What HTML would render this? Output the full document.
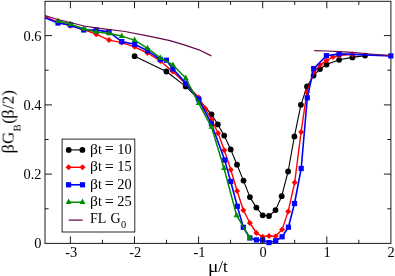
<!DOCTYPE html>
<html><head><meta charset="utf-8"><title>chart</title>
<style>html,body{margin:0;padding:0;background:#fff;width:395px;height:276px;overflow:hidden;font-family:"Liberation Serif",serif}</style></head>
<body>
<svg width="395" height="276" viewBox="0 0 395 276" style="position:absolute;left:0;top:0">
<rect width="395" height="276" fill="#fff"/>
<rect x="45.0" y="1.3" width="345.9" height="242.1" fill="none" stroke="#1a1a1a" stroke-width="1"/>
<polyline fill="none" stroke="#000" stroke-width="1.1" stroke-linejoin="round" points="134.6,56.2 166.4,71.5 185.7,86.4 198.6,99.2 211.5,114.3 217.8,124.4 224.2,135.6 230.7,149.4 237.0,164.7 243.5,180.6 249.9,197.1 256.4,207.6 262.7,215.3 269.0,216.0 275.5,210.1 281.7,196.2 288.1,171.5 294.4,136.4 300.9,104.8 307.0,86.5 313.6,75.6 320.0,69.1 326.5,64.5 339.1,59.8 352.4,57.4 365.1,55.6"/>
<circle cx="134.6" cy="56.2" r="2.9" fill="#000"/>
<circle cx="166.4" cy="71.5" r="2.9" fill="#000"/>
<circle cx="185.7" cy="86.4" r="2.9" fill="#000"/>
<circle cx="198.6" cy="99.2" r="2.9" fill="#000"/>
<circle cx="211.5" cy="114.3" r="2.9" fill="#000"/>
<circle cx="217.8" cy="124.4" r="2.9" fill="#000"/>
<circle cx="224.2" cy="135.6" r="2.9" fill="#000"/>
<circle cx="230.7" cy="149.4" r="2.9" fill="#000"/>
<circle cx="237.0" cy="164.7" r="2.9" fill="#000"/>
<circle cx="243.5" cy="180.6" r="2.9" fill="#000"/>
<circle cx="249.9" cy="197.1" r="2.9" fill="#000"/>
<circle cx="256.4" cy="207.6" r="2.9" fill="#000"/>
<circle cx="262.7" cy="215.3" r="2.9" fill="#000"/>
<circle cx="269.0" cy="216.0" r="2.9" fill="#000"/>
<circle cx="275.5" cy="210.1" r="2.9" fill="#000"/>
<circle cx="281.7" cy="196.2" r="2.9" fill="#000"/>
<circle cx="288.1" cy="171.5" r="2.9" fill="#000"/>
<circle cx="294.4" cy="136.4" r="2.9" fill="#000"/>
<circle cx="300.9" cy="104.8" r="2.9" fill="#000"/>
<circle cx="307.0" cy="86.5" r="2.9" fill="#000"/>
<circle cx="313.6" cy="75.6" r="2.9" fill="#000"/>
<circle cx="320.0" cy="69.1" r="2.9" fill="#000"/>
<circle cx="326.5" cy="64.5" r="2.9" fill="#000"/>
<circle cx="339.1" cy="59.8" r="2.9" fill="#000"/>
<circle cx="352.4" cy="57.4" r="2.9" fill="#000"/>
<circle cx="365.1" cy="55.6" r="2.9" fill="#000"/>
<polyline fill="none" stroke="#f00" stroke-width="1.4" stroke-linejoin="round" points="45.0,16.7 58.0,22.3 70.4,25.7 83.7,29.5 96.2,34.2 109.0,40.1 121.7,42.6 134.6,46.8 147.5,53.0 160.3,61.0 172.8,71.6 185.7,83.8 198.6,97.6 205.0,108.2 211.7,119.8 218.1,133.3 224.3,150.2 230.8,169.8 237.1,191.0 243.4,210.2 249.9,223.0 256.4,232.9 262.7,236.8 269.0,235.9 275.6,236.3 282.1,229.6 288.2,211.4 294.7,182.5 301.1,132.0 306.9,92.3 313.8,72.0 320.0,65.1 326.4,60.6 332.9,57.0 339.2,55.5 352.4,54.2"/>
<path d="M55.0 22.3L58.0 19.3L61.0 22.3L58.0 25.3Z" fill="#f00"/>
<path d="M67.4 25.7L70.4 22.7L73.4 25.7L70.4 28.7Z" fill="#f00"/>
<path d="M80.7 29.5L83.7 26.5L86.7 29.5L83.7 32.5Z" fill="#f00"/>
<path d="M93.2 34.2L96.2 31.2L99.2 34.2L96.2 37.2Z" fill="#f00"/>
<path d="M106.0 40.1L109.0 37.1L112.0 40.1L109.0 43.1Z" fill="#f00"/>
<path d="M118.7 42.6L121.7 39.6L124.7 42.6L121.7 45.6Z" fill="#f00"/>
<path d="M131.6 46.8L134.6 43.8L137.6 46.8L134.6 49.8Z" fill="#f00"/>
<path d="M144.5 53.0L147.5 50.0L150.5 53.0L147.5 56.0Z" fill="#f00"/>
<path d="M157.3 61.0L160.3 58.0L163.3 61.0L160.3 64.0Z" fill="#f00"/>
<path d="M169.8 71.6L172.8 68.6L175.8 71.6L172.8 74.6Z" fill="#f00"/>
<path d="M182.7 83.8L185.7 80.8L188.7 83.8L185.7 86.8Z" fill="#f00"/>
<path d="M195.6 97.6L198.6 94.6L201.6 97.6L198.6 100.6Z" fill="#f00"/>
<path d="M202.0 108.2L205.0 105.2L208.0 108.2L205.0 111.2Z" fill="#f00"/>
<path d="M208.7 119.8L211.7 116.8L214.7 119.8L211.7 122.8Z" fill="#f00"/>
<path d="M215.1 133.3L218.1 130.3L221.1 133.3L218.1 136.3Z" fill="#f00"/>
<path d="M221.3 150.2L224.3 147.2L227.3 150.2L224.3 153.2Z" fill="#f00"/>
<path d="M227.8 169.8L230.8 166.8L233.8 169.8L230.8 172.8Z" fill="#f00"/>
<path d="M234.1 191.0L237.1 188.0L240.1 191.0L237.1 194.0Z" fill="#f00"/>
<path d="M240.4 210.2L243.4 207.2L246.4 210.2L243.4 213.2Z" fill="#f00"/>
<path d="M246.9 223.0L249.9 220.0L252.9 223.0L249.9 226.0Z" fill="#f00"/>
<path d="M253.4 232.9L256.4 229.9L259.4 232.9L256.4 235.9Z" fill="#f00"/>
<path d="M259.7 236.8L262.7 233.8L265.7 236.8L262.7 239.8Z" fill="#f00"/>
<path d="M266.0 235.9L269.0 232.9L272.0 235.9L269.0 238.9Z" fill="#f00"/>
<path d="M272.6 236.3L275.6 233.3L278.6 236.3L275.6 239.3Z" fill="#f00"/>
<path d="M279.1 229.6L282.1 226.6L285.1 229.6L282.1 232.6Z" fill="#f00"/>
<path d="M285.2 211.4L288.2 208.4L291.2 211.4L288.2 214.4Z" fill="#f00"/>
<path d="M291.7 182.5L294.7 179.5L297.7 182.5L294.7 185.5Z" fill="#f00"/>
<path d="M298.1 132.0L301.1 129.0L304.1 132.0L301.1 135.0Z" fill="#f00"/>
<path d="M303.9 92.3L306.9 89.3L309.9 92.3L306.9 95.3Z" fill="#f00"/>
<path d="M310.8 72.0L313.8 69.0L316.8 72.0L313.8 75.0Z" fill="#f00"/>
<path d="M317.0 65.1L320.0 62.1L323.0 65.1L320.0 68.1Z" fill="#f00"/>
<path d="M323.4 60.6L326.4 57.6L329.4 60.6L326.4 63.6Z" fill="#f00"/>
<path d="M329.9 57.0L332.9 54.0L335.9 57.0L332.9 60.0Z" fill="#f00"/>
<path d="M336.2 55.5L339.2 52.5L342.2 55.5L339.2 58.5Z" fill="#f00"/>
<path d="M349.4 54.2L352.4 51.2L355.4 54.2L352.4 57.2Z" fill="#f00"/>
<polyline fill="none" stroke="#00f" stroke-width="1.6" stroke-linejoin="round" points="45.0,17.8 58.0,23.0 70.4,25.0 83.7,30.0 96.2,30.1 109.0,31.9 121.7,41.6 134.6,44.2 147.5,50.8 160.3,59.5 166.4,60.2 172.9,68.9 185.7,83.1 198.6,99.2 211.4,123.7 224.7,160.1 230.7,181.5 237.3,206.3 243.3,227.3 249.9,238.0 256.4,239.9 262.6,240.2 269.0,242.6 275.7,240.8 282.1,236.8 288.4,227.2 294.5,203.5 301.2,168.5 307.3,97.8 313.7,68.6 326.4,55.7 339.1,53.9 390.8,55.9"/>
<rect x="55.4" y="20.4" width="5.2" height="5.2" fill="#00f"/>
<rect x="67.8" y="22.4" width="5.2" height="5.2" fill="#00f"/>
<rect x="81.1" y="27.4" width="5.2" height="5.2" fill="#00f"/>
<rect x="93.6" y="27.5" width="5.2" height="5.2" fill="#00f"/>
<rect x="106.4" y="29.3" width="5.2" height="5.2" fill="#00f"/>
<rect x="119.1" y="39.0" width="5.2" height="5.2" fill="#00f"/>
<rect x="132.0" y="41.6" width="5.2" height="5.2" fill="#00f"/>
<rect x="144.9" y="48.2" width="5.2" height="5.2" fill="#00f"/>
<rect x="157.7" y="56.9" width="5.2" height="5.2" fill="#00f"/>
<rect x="163.8" y="57.6" width="5.2" height="5.2" fill="#00f"/>
<rect x="170.3" y="66.3" width="5.2" height="5.2" fill="#00f"/>
<rect x="183.1" y="80.5" width="5.2" height="5.2" fill="#00f"/>
<rect x="196.0" y="96.6" width="5.2" height="5.2" fill="#00f"/>
<rect x="208.8" y="121.1" width="5.2" height="5.2" fill="#00f"/>
<rect x="222.1" y="157.5" width="5.2" height="5.2" fill="#00f"/>
<rect x="228.1" y="178.9" width="5.2" height="5.2" fill="#00f"/>
<rect x="234.7" y="203.7" width="5.2" height="5.2" fill="#00f"/>
<rect x="240.7" y="224.7" width="5.2" height="5.2" fill="#00f"/>
<rect x="247.3" y="235.4" width="5.2" height="5.2" fill="#00f"/>
<rect x="253.8" y="237.3" width="5.2" height="5.2" fill="#00f"/>
<rect x="260.0" y="237.6" width="5.2" height="5.2" fill="#00f"/>
<rect x="266.4" y="240.0" width="5.2" height="5.2" fill="#00f"/>
<rect x="273.1" y="238.2" width="5.2" height="5.2" fill="#00f"/>
<rect x="279.5" y="234.2" width="5.2" height="5.2" fill="#00f"/>
<rect x="285.8" y="224.6" width="5.2" height="5.2" fill="#00f"/>
<rect x="291.9" y="200.9" width="5.2" height="5.2" fill="#00f"/>
<rect x="298.6" y="165.9" width="5.2" height="5.2" fill="#00f"/>
<rect x="304.7" y="95.2" width="5.2" height="5.2" fill="#00f"/>
<rect x="311.1" y="66.0" width="5.2" height="5.2" fill="#00f"/>
<rect x="323.8" y="53.1" width="5.2" height="5.2" fill="#00f"/>
<rect x="336.5" y="51.3" width="5.2" height="5.2" fill="#00f"/>
<rect x="388.2" y="53.3" width="5.2" height="5.2" fill="#00f"/>
<polyline fill="none" stroke="#008b00" stroke-width="1.5" stroke-linejoin="round" points="58.0,21.1 70.4,24.1 83.7,28.8 96.2,31.9 109.0,33.5 121.7,36.1 134.6,40.1 147.5,48.3 160.3,57.8 172.9,65.0 185.7,78.1 198.6,103.2 211.4,126.9 224.0,168.2 236.6,215.4 249.9,238.0"/>
<path d="M55.10 22.95L60.90 22.95L58.00 17.50Z" fill="#008b00"/>
<path d="M67.50 25.95L73.30 25.95L70.40 20.50Z" fill="#008b00"/>
<path d="M80.80 30.65L86.60 30.65L83.70 25.20Z" fill="#008b00"/>
<path d="M93.30 33.75L99.10 33.75L96.20 28.30Z" fill="#008b00"/>
<path d="M106.10 35.35L111.90 35.35L109.00 29.90Z" fill="#008b00"/>
<path d="M118.80 37.95L124.60 37.95L121.70 32.50Z" fill="#008b00"/>
<path d="M131.70 41.95L137.50 41.95L134.60 36.50Z" fill="#008b00"/>
<path d="M144.60 50.15L150.40 50.15L147.50 44.70Z" fill="#008b00"/>
<path d="M157.40 59.65L163.20 59.65L160.30 54.20Z" fill="#008b00"/>
<path d="M170.00 66.85L175.80 66.85L172.90 61.40Z" fill="#008b00"/>
<path d="M182.80 79.95L188.60 79.95L185.70 74.50Z" fill="#008b00"/>
<path d="M195.70 105.05L201.50 105.05L198.60 99.60Z" fill="#008b00"/>
<path d="M208.50 128.75L214.30 128.75L211.40 123.30Z" fill="#008b00"/>
<path d="M221.10 170.05L226.90 170.05L224.00 164.60Z" fill="#008b00"/>
<path d="M233.70 217.25L239.50 217.25L236.60 211.80Z" fill="#008b00"/>
<path d="M247.00 239.85L252.80 239.85L249.90 234.40Z" fill="#008b00"/>
<polyline fill="none" stroke="#670748" stroke-width="1.25" stroke-linejoin="round" points="45.0,15.7 57.7,19.5 70.4,22.5 84.0,26.0 96.0,27.8 125.0,31.5 150.0,36.3 170.0,40.6 185.0,45.2 198.9,49.8 211.4,55.9"/>
<polyline fill="none" stroke="#670748" stroke-width="1.25" stroke-linejoin="round" points="314.3,50.7 327.0,51.0 340.0,51.6 355.0,52.7 370.0,54.0 390.8,55.6"/>
<path d="M70.4 243.4v-7M70.4 1.3v7M134.5 243.4v-7M134.5 1.3v7M198.6 243.4v-7M198.6 1.3v7M262.7 243.4v-7M262.7 1.3v7M326.8 243.4v-7M326.8 1.3v7M102.4 243.4v-3.6M102.4 1.3v3.6M166.5 243.4v-3.6M166.5 1.3v3.6M230.6 243.4v-3.6M230.6 1.3v3.6M294.7 243.4v-3.6M294.7 1.3v3.6M358.8 243.4v-3.6M358.8 1.3v3.6M45.0 174.1h7M390.9 174.1h-7M45.0 104.9h7M390.9 104.9h-7M45.0 35.6h7M390.9 35.6h-7M45.0 208.8h3.6M390.9 208.8h-3.6M45.0 139.5h3.6M390.9 139.5h-3.6M45.0 70.2h3.6M390.9 70.2h-3.6" stroke="#1a1a1a" stroke-width="1" fill="none"/>
<rect x="62.1" y="139.1" width="72.7" height="92.9" fill="#fff" stroke="#111" stroke-width="0.9"/>
<path d="M68.6 149.9H82.5" stroke="#000" stroke-width="1.1"/>
<circle cx="68.7" cy="149.9" r="2.9" fill="#000"/>
<circle cx="82.4" cy="149.9" r="2.9" fill="#000"/>
<path d="M68.6 167.3H82.5" stroke="#f00" stroke-width="1.4"/>
<path d="M65.6 167.3L68.6 164.3L71.6 167.3L68.6 170.3Z" fill="#f00"/>
<path d="M79.5 167.3L82.5 164.3L85.5 167.3L82.5 170.3Z" fill="#f00"/>
<path d="M68.6 184.8H82.5" stroke="#00f" stroke-width="1.6"/>
<rect x="66.0" y="182.2" width="5.2" height="5.2" fill="#00f"/>
<rect x="79.9" y="182.2" width="5.2" height="5.2" fill="#00f"/>
<path d="M68.6 202.2H82.5" stroke="#008b00" stroke-width="1.5"/>
<path d="M65.70 204.05L71.50 204.05L68.60 198.60Z" fill="#008b00"/>
<path d="M79.65 204.05L85.45 204.05L82.55 198.60Z" fill="#008b00"/>
<path d="M68.6 220.1H82.6" stroke="#670748" stroke-width="1.25"/>
<g style="filter:grayscale(1)" font-family="Liberation Serif, serif" font-size="14.4" fill="#000">
<text font-size="14" x="90.0" y="153.8"><tspan textLength="7.9" lengthAdjust="spacingAndGlyphs">β</tspan><tspan x="97.9">t</tspan><tspan x="104.7" font-size="16" dy="0.4">=</tspan><tspan x="117.3" font-size="14.4" dy="-0.4">10</tspan></text>
<text font-size="14" x="90.0" y="171.2"><tspan textLength="7.9" lengthAdjust="spacingAndGlyphs">β</tspan><tspan x="97.9">t</tspan><tspan x="104.7" font-size="16" dy="0.4">=</tspan><tspan x="117.3" font-size="14.4" dy="-0.4">15</tspan></text>
<text font-size="14" x="90.0" y="188.7"><tspan textLength="7.9" lengthAdjust="spacingAndGlyphs">β</tspan><tspan x="97.9">t</tspan><tspan x="104.7" font-size="16" dy="0.4">=</tspan><tspan x="117.3" font-size="14.4" dy="-0.4">20</tspan></text>
<text font-size="14" x="90.0" y="206.1"><tspan textLength="7.9" lengthAdjust="spacingAndGlyphs">β</tspan><tspan x="97.9">t</tspan><tspan x="104.7" font-size="16" dy="0.4">=</tspan><tspan x="117.3" font-size="14.4" dy="-0.4">25</tspan></text>
<text font-size="14" x="90.0" y="223.2">FL<tspan x="110.4">G</tspan><tspan font-size="10.3" dx="0.4" dy="5">0</tspan></text>
<text x="71.2" y="257.1" text-anchor="middle">-3</text>
<text x="135.3" y="257.1" text-anchor="middle">-2</text>
<text x="199.4" y="257.1" text-anchor="middle">-1</text>
<text x="263.1" y="257.1" text-anchor="middle">0</text>
<text x="327.1" y="257.1" text-anchor="middle">1</text>
<text x="391.2" y="257.1" text-anchor="middle">2</text>
<text x="41.5" y="248.3" text-anchor="end">0</text>
<text x="41.5" y="179.0" text-anchor="end">0.2</text>
<text x="41.5" y="109.8" text-anchor="end">0.4</text>
<text x="41.5" y="40.5" text-anchor="end">0.6</text>
</g>
<g style="filter:grayscale(1)" font-family="Liberation Serif, serif" font-size="17" fill="#000">
<text x="208.0" y="272.3"><tspan textLength="10.4" lengthAdjust="spacingAndGlyphs">μ</tspan><tspan x="218.3">/t</tspan></text>
<text transform="translate(13.6,0) rotate(-90)"><tspan x="-153.6" textLength="9.3" lengthAdjust="spacingAndGlyphs">β</tspan><tspan x="-144.1">G</tspan><tspan x="-131.5" dy="6.6" font-size="10.8">B</tspan><tspan x="-123.7" dy="-6.6">(</tspan><tspan x="-118.8" textLength="9.3" lengthAdjust="spacingAndGlyphs">β</tspan><tspan x="-108.9">/2)</tspan></text>
</g>
</svg>
</body></html>
